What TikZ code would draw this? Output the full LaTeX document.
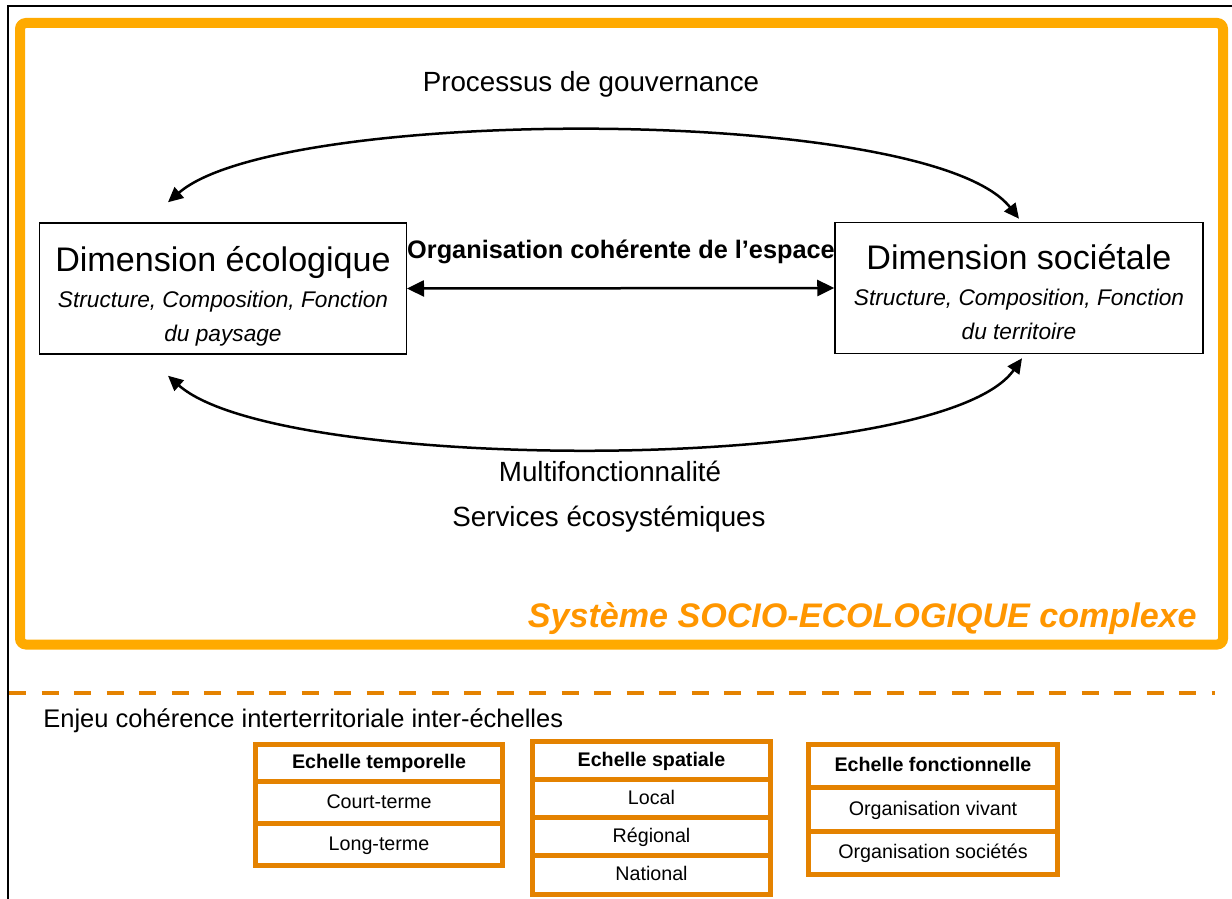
\documentclass[tikz,border=0pt]{standalone}
\usepackage{fontspec}
\setmainfont{Liberation Sans}
\usetikzlibrary{positioning, arrows.meta}
\definecolor{frameorange}{RGB}{255,170,0}
\definecolor{textorange}{RGB}{255,150,0}
\definecolor{tableorange}{RGB}{228,130,0}

\begin{document}
\begin{tikzpicture}
    [
        x=0.2mm, y=-0.2mm, on grid,
        dim_box/.style={draw=black, line width=0.3mm, minimum width=73.3mm, minimum height=26.2mm, align=center, inner sep=0mm, font=\fontsize{12.9}{19.3}\selectfont},
        plain_text/.style={inner sep=0mm, font=\fontsize{15.8}{19}\selectfont},
        arc_arrow/.style={{Triangle[length=3mm, width=2.8mm]}-{Triangle[length=3mm, width=2.8mm]}, line width=0.5mm},
        cell_box/.style={draw=tableorange, line width=1mm, fill=white, inner sep=0mm, text height=1.5ex, text depth=0.25ex, font=\fontsize{11.2}{13}\selectfont},
        head_box/.style={cell_box, font=\fontsize{11.2}{13}\selectfont\bfseries},
    ]
        \useasboundingbox (0,0) rectangle (1232,899);
        \draw[line width=0.5mm] (8,905) -- (8,6) -- (1240,6);
        \draw[draw=frameorange, line width=2mm, rounded corners=1.2mm] (20,23) rectangle (1223,644.5);
        \draw[draw=tableorange, line width=0.8mm, dash pattern=on 3.4mm off 3.1mm] (9,693) -- (1215,693);

        \node[dim_box] (dimeco) at (223,288.5) {\rule{0pt}{8mm}{\fontsize{19.4}{23}\selectfont Dimension écologique}\\[1.2pt] \itshape Structure, Composition, Fonction\\ \itshape du paysage} ;
        \node[dim_box, minimum width=73.6mm] (dimsoc) at (1019,288) {\rule{0pt}{6.6mm}{\fontsize{19.4}{23}\selectfont Dimension sociétale}\\[1.2pt] \itshape Structure, Composition, Fonction\\ \itshape du territoire} ;
        \node[plain_text, anchor=base] (gouv) at (591,92) {Processus de gouvernance} ;
        \node[plain_text, anchor=base, font=\fontsize{14.4}{17}\selectfont\bfseries] (orga) at (621,259) {Organisation cohérente de l’espace} ;
        \node[plain_text, anchor=base] (multi) at (610,481) {Multifonctionnalité} ;
        \node[plain_text, anchor=base] (services) at (609,526) {Services écosystémiques} ;
        \node[plain_text, anchor=base east, text=textorange, font=\fontsize{19.4}{23}\selectfont\bfseries\itshape] (systeme) at (1197,627) {Système SOCIO-ECOLOGIQUE complexe} ;
        \node[plain_text, anchor=base west, font=\fontsize{14.5}{17}\selectfont] (enjeu) at (43,727) {Enjeu cohérence interterritoriale inter-échelles} ;

        \draw[arc_arrow] ([xshift=-11mm, yshift=4mm]dimeco.north) .. controls (280,105) and (930,105) .. ([yshift=0.6mm]dimsoc.north) ;
        \draw[arc_arrow] ([xshift=-11mm, yshift=-4.2mm]dimeco.south) .. controls (280,475) and (940,475) .. ([xshift=0.6mm, yshift=-0.8mm]dimsoc.south) ;
        \draw[{Triangle[length=3.4mm, width=3.2mm]}-{Triangle[length=3.4mm, width=3.2mm]}, line width=0.5mm] (dimeco.east) -- (dimsoc.west) ;

        % echelles
        \node[head_box, minimum width=49.2mm, minimum height=7.4mm] (temphead) at (379,763) {Echelle temporelle} ;
        \node[cell_box, minimum width=49.2mm, minimum height=8.3mm] (court) [below=7.9mm of temphead] {Court-terme} ;
        \node[cell_box, minimum width=49.2mm, minimum height=8.5mm] (long) [below=8.4mm of court] {Long-terme} ;

        \node[head_box, minimum width=47.6mm, minimum height=7.6mm] (spathead) at (651.5,760.5) {Echelle spatiale} ;
        \node[cell_box, minimum width=47.6mm, minimum height=7.6mm] (local) [below=7.6mm of spathead] {Local} ;
        \node[cell_box, minimum width=47.6mm, minimum height=7.6mm] (regional) [below=7.6mm of local] {Régional} ;
        \node[cell_box, minimum width=47.6mm, minimum height=7.8mm] (national) [below=7.7mm of regional] {National} ;

        \node[head_box, minimum width=49.7mm, minimum height=8.7mm] (fonchead) at (933,766) {Echelle fonctionnelle} ;
        \node[cell_box, minimum width=49.7mm, minimum height=8.8mm] (vivant) [below=8.75mm of fonchead] {Organisation vivant} ;
        \node[cell_box, minimum width=49.7mm, minimum height=8.5mm] (societes) [below=8.65mm of vivant] {Organisation sociétés} ;
    \end{tikzpicture}
\end{document}
